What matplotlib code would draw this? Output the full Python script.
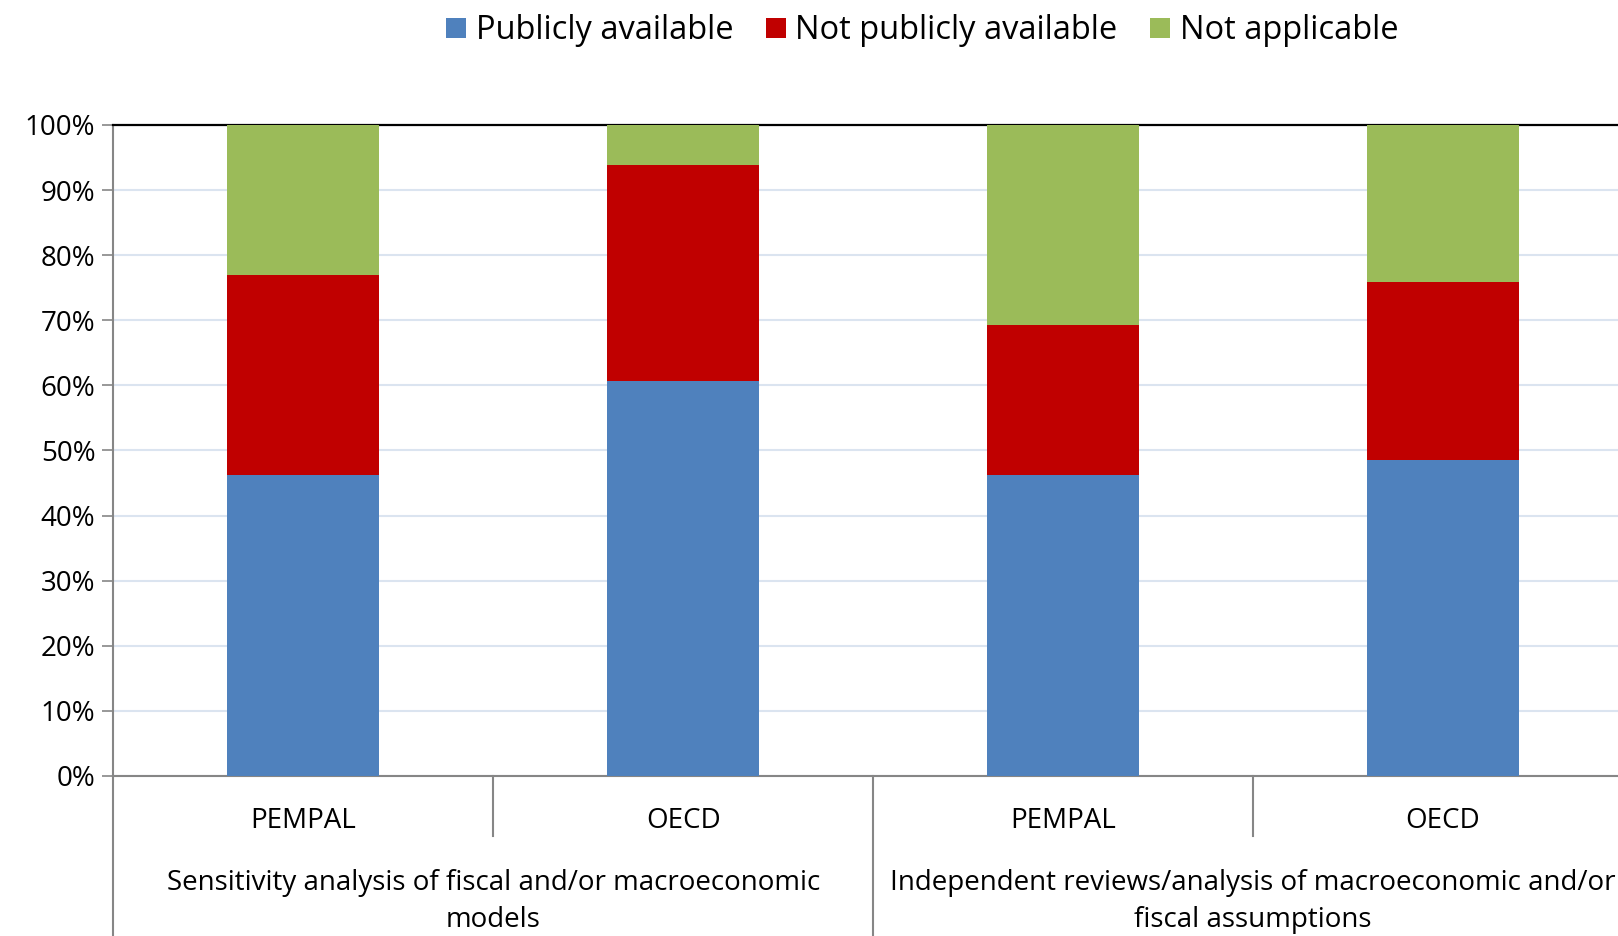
import numpy as np
import matplotlib.pyplot as plt

plt.rcParams['font.family'] = ['Open Sans', 'DejaVu Sans']

countries = ["PEMPAL", "OECD", "PEMPAL", "OECD"]
groups = ["Sensitivity analysis of fiscal and/or macroeconomic\nmodels",
          "Independent reviews/analysis of macroeconomic and/or\nfiscal assumptions"]
public = [46.2, 60.6, 46.2, 48.5]
not_public = [30.8, 33.3, 23.0, 27.3]
not_applicable = [23.0, 6.1, 30.8, 24.2]

series = ["Publicly available", "Not publicly available", "Not applicable"]
colors = ["#4f81bd", "#c00000", "#9bbb59"]

fig = plt.figure(figsize=(16.18, 9.36), dpi=100)
ax = fig.add_axes([0.0701, 0.171, 0.939, 0.6955])

x = np.arange(len(countries))
bottom = np.zeros(len(countries))
for vals, lab, c in zip([public, not_public, not_applicable], series, colors):
    ax.bar(x, vals, width=0.4, bottom=bottom, color=c, label=lab, zorder=3)
    bottom += np.array(vals)

ax.set_xlim(-0.5, 3.5)
ax.set_ylim(0, 100)
ax.set_yticks(np.arange(0, 101, 10))
ax.set_yticklabels([f"{v}%" for v in range(0, 101, 10)], fontsize=20)
ax.yaxis.grid(True, color="#dbe4f0", linewidth=1.5, zorder=0)
ax.set_xticks([])
ax.tick_params(axis="y", length=8, width=1.2, color="#868686", pad=5)

ax.spines["right"].set_visible(False)
ax.spines["top"].set_color("black")
ax.spines["top"].set_linewidth(1.6)
ax.spines["left"].set_color("#868686")
ax.spines["left"].set_linewidth(1.5)
ax.spines["bottom"].set_color("#868686")
ax.spines["bottom"].set_linewidth(1.5)

tr = ax.get_xaxis_transform()
for i, name in enumerate(countries):
    ax.text(i, -0.069, name, transform=tr, ha="center", va="center", fontsize=20)
for g, name in enumerate(groups):
    ax.text(2 * g + 0.5, -0.193, name, transform=tr, ha="center", va="center",
            fontsize=20, linespacing=1.42)

for xs in [-0.5, 1.5, 3.5]:
    ax.plot([xs, xs], [0, -0.25], transform=tr, color="#868686", lw=1.5, clip_on=False)
for xs in [0.5, 2.5]:
    ax.plot([xs, xs], [0, -0.092], transform=tr, color="#868686", lw=1.5, clip_on=False)

fig.legend(loc="upper center", bbox_to_anchor=(0.57, 1.016), ncol=3, frameon=False,
           fontsize=23.5, handlelength=0.6, handleheight=0.6, handletextpad=0.3,
           columnspacing=1.0)

fig.savefig("out.png", dpi=100)
